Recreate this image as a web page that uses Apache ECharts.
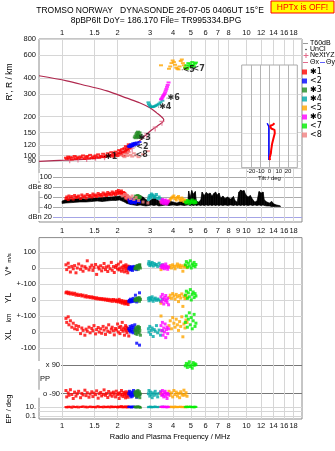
<!DOCTYPE html>
<html>
<head>
<meta charset="utf-8">
<script src="https://cdn.jsdelivr.net/npm/echarts@6/dist/echarts.min.js"></script>
<style>
html, body { margin: 0; padding: 0; background: #fff; }
#chart { width: 335px; height: 451px; }
</style>
</head>
<body>
<div id="chart"></div>
<script>
// frequency ticks (MHz) and height ticks (km)
const fTicks = [1, 1.5, 2, 3, 4, 5, 6, 7, 8, 10, 12, 14, 16, 18];
const fTicksMid = [1, 1.5, 2, 3, 4, 5, 6, 7, 8, 9, 10, 12, 14, 16, 18];
const rTicks = [80, 90, 100, 120, 150, 200, 300, 400, 600, 800];
const dbTicks = [20, 40, 60, 80, 100];
const midTicks = [-100, 0, 100, 200, 300, 400, 500];
const midTickText = ['-100', '0', '+-100', '0', '+-100', '0', '100'];
const ppTicks = [-90, 0, 90];
const ppTickText = ['o -90', 'PP', 'x 90'];
const epTicks = [0.1, 1, 10];
const epLabelTicks = [0.1, 10];
const tiltTicks = [-20, -10, 0, 10, 20];

const modeNames = ['✱1', '<2', '✱3', '✱4', '<5', '✱6', '<7', '<8'];
const modeColors = ['#ff0000', '#0000ff', '#228b22', '#00a8a8', '#ffa500', '#ff00ff', '#00ee00', '#f08080'];

// mode 1 (red)
const redF = [1.05,1.06,1.08,1.09,1.11,1.13,1.15,1.17,1.19,1.21,1.23,1.26,1.28,1.30,1.33,1.35,1.37,1.40,1.42,1.45,
  1.47,1.49,1.52,1.54,1.57,1.59,1.62,1.64,1.67,1.69,1.72,1.74,1.77,1.79,1.82,1.85,1.87,1.90,1.92,1.95,
  1.97,2.00,2.02,2.04,2.06,2.08,2.10,2.12,2.14,2.16,2.18,2.19,2.21,2.22,2.24,2.25,2.27,2.28,2.30,2.32];
const redRp = [96,94,98,95,97,93,96,99,94,97,95,98,96,100,94,97,99,95,101,96,
  98,95,100,97,102,96,99,98,103,97,100,98,104,99,101,106,98,103,100,107,
  102,99,105,110,103,108,101,112,105,99,114,107,110,118,104,112,116,108,122,113];
const redAmp = [57,60,55,62,58,61,56,63,59,60,62,57,64,60,62,58,65,61,63,60,
  66,62,64,61,67,63,65,62,68,64,66,63,69,65,67,64,70,66,68,65,
  71,67,73,69,70,66,72,68,65,69,63,67,60,64,58,62,56,60,55,58];
const redVs = [20,-10,30,5,-25,10,-5,15,-30,0,25,-8,12,-20,8,-2,45,-12,5,18,
  -15,3,22,-40,6,-6,14,-18,2,28,-10,7,-22,12,-4,35,-14,9,-28,4,
  16,-6,24,-12,0,38,-20,6,-8,14,-24,10,-2,20,-16,4,-30,12,-6,8];
const redYl = [45,50,40,48,38,44,35,42,30,36,28,33,25,30,20,27,18,22,15,20,
  12,16,8,14,6,10,4,9,2,7,0,5,-3,4,-5,2,-8,3,-6,0,
  -10,-2,-12,4,-8,-15,-4,-20,-6,-12,-18,-25,-8,-14,-22,-10,-16,-28,-12,-5];
const redXl = [85,60,95,45,70,30,55,20,40,15,35,-10,25,10,-20,18,5,30,-5,22,
  8,40,-12,15,28,0,20,-8,35,12,-15,25,5,45,-2,18,30,8,-18,22,
  12,50,0,28,-10,35,15,60,5,25,-20,18,40,8,30,-5,22,12,-25,10];
const redPp = [-70,-110,-85,-100,-65,-95,-120,-80,-105,-90,-75,-115,-88,-98,-68,-102,-84,-112,-92,-78,
  -108,-86,-96,-72,-118,-90,-82,-104,-94,-66,-100,-88,-114,-76,-98,-86,-106,-80,-92,-110,
  -74,-96,-88,-120,-84,-100,-70,-94,-108,-82,-98,-90,-116,-78,-104,-86,-92,-112,-80,-96];
const redEp = [10,8,12,9,11,7,13,10,9,12,8,11,10,14,9,12,8,10,13,9,
  11,10,8,12,15,9,10,11,8,13,10,9,12,11,8,14,10,9,12,10,
  11,8,13,10,9,12,16,10,8,11,10,13,9,12,10,8,11,14,9,10];

// mode 2 (blue)
const blueF = [2.30,2.32,2.34,2.35,2.37,2.38,2.40,2.41,2.43,2.44,2.46,2.48,2.50,2.54,2.58,2.63];
const blueRp = [118,116,120,117,122,119,121,118,124,120,123,125,121,126,122,127];
const blueAmp = [54,50,56,52,48,55,51,53,49,54,50,52,48,51,55,50];
const blueVs = [-5,5,-12,0,8,-8,3,-15,6,-3,10,-6,2,-10,12,15];
const blueYl = [-8,-2,-12,5,-5,-10,0,-6,10,-3,-8,2,30,-12,5,45];
const blueXl = [20,10,35,0,25,15,40,5,-5,30,18,45,10,-70,25,-82];
const bluePp = [-90,-75,-100,-85,-110,-95,-80,-105,-88,-70,-98,-92,-84,-112,-78,-95];
const blueEp = [10,12,9,11,10,8,13,10,9,11,12,10,9,10,11,10];

// mode 3 (green)
const greenF = [2.48,2.50,2.51,2.53,2.54,2.55,2.57,2.58,2.59,2.60,2.62,2.63,2.64,2.66];
const greenRp = [138,142,136,146,140,150,144,153,139,148,143,151,137,145];
const greenAmp = [58,60,62,57,61,59,63,58,60,62,57,61,59,60];
const greenVs = [-5,0,8,-3,12,5,15,2,-8,10,18,6,20,0];
const greenYl = [0,5,-5,8,2,10,-2,12,6,4,15,-8,8,3];
const greenXl = [10,-10,25,5,30,-15,15,0,35,20,-5,28,10,-20];
const greenPp = [-85,-100,-75,-95,-110,-80,-90,-70,-105,-88,-98,-78,-115,-92];
const greenEp = [10,12,9,8,11,10,13,9,10,12,8,11,10,7];

// mode 4 (teal)
const tealF = [2.94,2.96,2.99,3.02,3.05,3.08,3.12,3.16,3.20,3.25,3.30,3.36,3.42,3.50];
const tealRp = [258,250,244,240,238,237,238,240,242,245,248,252,258,266];
const tealAmp = [55,60,63,58,66,62,64,59,61,65,57,60,56,54];
const tealVs = [25,40,15,30,20,35,12,28,18,22,10,30,15,20];
const tealYl = [10,-5,15,0,8,20,-8,5,12,-2,6,0,-10,4];
const tealXl = [20,0,35,-15,10,25,-28,15,5,40,-5,12,-20,8];
const tealPp = [-90,-70,-105,-80,-95,-115,-85,-100,-75,-92,-110,-88,-78,-96];
const tealEp = [9,11,10,12,8,10,11,9,13,10,9,11,10,12];

// mode 5 (orange)
const orangeF = [3.44,3.80,3.86,3.92,3.98,4.04,4.10,4.16,4.22,4.28,4.34,4.40,4.46,4.52,4.58,4.64,4.70,4.76];
const orangeRp = [500,470,490,520,545,530,505,480,470,465,490,540,555,520,500,480,470,475];
const orangeAmp = [50,52,55,58,60,62,57,54,59,61,56,53,58,55,51,54,52,50];
const orangeVs = [-10,5,15,0,20,10,-5,12,25,8,18,3,14,-20,6,16,10,2];
const orangeYl = [-20,15,30,10,40,25,5,35,20,-10,28,12,38,-40,22,8,30,15];
const orangeXl = [100,40,70,20,90,55,30,80,45,10,65,35,95,-30,50,25,75,60];
const orangePp = [-90,-75,-100,-85,-110,-70,-95,-80,-105,-88,-115,-78,-92,-100,-68,-98,-84,-106];
const orangeEp = [10,11,9,12,10,8,13,10,9,11,10,12,9,10,11,8,10,12];

// mode 6 (magenta)
const magF = [3.44,3.47,3.50,3.53,3.56,3.59,3.62,3.65,3.68,3.71,3.74,3.78];
const magRp = [272,276,282,288,294,300,308,318,328,340,352,368];
const magAmp = [52,48,55,50,47,53,49,54,46,51,48,52];
const magVs = [5,15,0,20,8,-5,12,25,2,10,-8,6];
const magYl = [20,-10,35,5,-25,15,-5,28,0,-15,10,-30];
const magXl = [40,10,60,-20,25,0,50,-35,15,30,-10,20];
const magPp = [-80,-100,-70,-95,-110,-85,-75,-105,-90,-120,-88,-98];
const magEp = [10,12,9,11,10,13,9,10,11,8,12,10];

// mode 7 (lime)
const limeF = [4.66,4.72,4.78,4.84,4.90,4.96,5.02,5.08,5.14,5.20,5.26,5.32];
const limeRp = [480,500,470,520,495,510,485,530,505,490,515,525];
const limeAmp = [50,48,53,51,47,52,49,54,50,48,52,49];
const limeVs = [20,40,5,30,12,45,0,25,15,35,8,22];
const limeYl = [30,55,10,45,20,65,0,35,50,15,40,25];
const limeXl = [60,100,30,80,120,45,90,20,70,110,35,55];
const limePp = [85,100,75,95,110,80,90,70,105,88,98,92];
const limeEp = [10,12,9,11,10,13,9,10,11,8,12,10];

// mode 8 (salmon)
const salF = [2.12,2.18,2.22,2.26,2.30,2.35,2.40,2.45,2.52,2.60,2.75,2.92];
const salRp = [100,97,103,99,106,101,98,104,100,97,102,108];
const salAmp = [62,65,58,63,60,57,62,55,59,53,50,48];

// mode markers
const markF = [1.70, 2.51, 2.58, 3.34, 4.48, 3.71, 5.07, 2.49];
const markKm = [98, 117, 136, 237, 462, 279, 468, 101];

// real height profile
const profF = [0.75,1.04,1.42,1.82,2.20,2.49,2.77,3.07,3.34,3.51,3.56,3.48,3.27,3.01,2.65,2.25,1.75,1.36,1.06,0.75];
const profKm = [90,92,94,99,108,121,139,158,172,181,190,198,213,233,255,278,317,347,379,415];
const nextF = [1.10,1.22,1.36,1.52,1.70,1.90,2.12,2.40,2.88,3.20,3.48];
const nextKm = [91,92,93,95,96,99,104,110,142,160,178];

// noise / amplitude band
const ampF = [1.00,1.05,1.15,1.25,1.35,1.45,1.55,1.65,1.75,1.85,1.95,2.05,2.15,2.25,2.35,2.45,2.55,2.65,2.75,2.85,
  2.95,3.05,3.15,3.25,3.35,3.50,3.65,3.80,4.00,4.20,4.40,4.60,4.80,4.86,4.95,5.05,5.15,5.28,5.35,5.50,
  5.65,5.75,5.90,6.05,6.20,6.35,6.50,6.65,6.80,6.95,7.10,7.25,7.45,7.65,7.90,8.20,8.50,8.70,8.90,9.10,
  9.30,9.50,9.70,9.90,10.2,10.5,10.8,11.1,11.4,11.7,12.0,12.3,12.5,12.9,13.3,13.7,14.1,14.6,15.0,15.3];
const ampLo = [47,48,49,50,50,51,52,51,52,53,53,54,51,47,45,44,43,44,43,42,
  43,44,43,44,42,43,44,43,44,43,44,43,44,44,43,44,43,44,43,44,
  43,44,43,44,43,44,43,44,43,44,43,44,43,44,43,44,43,44,43,44,
  43,44,43,44,43,44,43,44,43,44,43,44,43,42,42,41,41,41,41,41];
const ampHi = [52,55,56,57,56,58,58,59,60,60,61,62,60,58,56,58,57,62,60,55,
  50,55,58,56,52,50,48,52,50,48,52,49,50,72,60,73,66,71,52,50,
  54,70,63,69,66,68,62,67,70,64,68,58,62,57,60,56,61,52,50,70,
  74,72,73,65,60,63,55,50,52,71,68,70,54,50,48,51,46,44,43,42];

// tilt inset
const tiltRedDeg = [0.5,0.2,1.8,1.5,1.8,2.9,4.3,5.7,5.4,1.8,3.0,0.7,3.6,5.4];
const tiltRedKm = [92,96,98,104,110,124,136,149,158,162,167,170,173,178];
const tiltBlueDeg = [-0.7,-0.7,-0.7,-0.7,-2.5];
const tiltBlueKm = [92,120,150,168,178];

const vsBase = 400, ylBase = 200, xlBase = 0;

const lg = v => Math.log10(v);
const fmtF = v => String(Math.round(Math.pow(10, v) * 10) / 10);
const FONT = 'Liberation Sans';
const gridLine = '#d6d6d6';

const modes = [
  { f: redF, rp: redRp, amp: redAmp, vs: redVs, yl: redYl, xl: redXl, pp: redPp, ep: redEp },
  { f: blueF, rp: blueRp, amp: blueAmp, vs: blueVs, yl: blueYl, xl: blueXl, pp: bluePp, ep: blueEp },
  { f: greenF, rp: greenRp, amp: greenAmp, vs: greenVs, yl: greenYl, xl: greenXl, pp: greenPp, ep: greenEp },
  { f: tealF, rp: tealRp, amp: tealAmp, vs: tealVs, yl: tealYl, xl: tealXl, pp: tealPp, ep: tealEp },
  { f: orangeF, rp: orangeRp, amp: orangeAmp, vs: orangeVs, yl: orangeYl, xl: orangeXl, pp: orangePp, ep: orangeEp },
  { f: magF, rp: magRp, amp: magAmp, vs: magVs, yl: magYl, xl: magXl, pp: magPp, ep: magEp },
  { f: limeF, rp: limeRp, amp: limeAmp, vs: limeVs, yl: limeYl, xl: limeXl, pp: limePp, ep: limeEp },
  { f: salF, rp: salRp, amp: salAmp }
];

const fMin = lg(0.75), fMax = lg(20);
const L = 39, W = 263;
const grids = [
  { left: L, width: W, top: 39, height: 133 },           // R'
  { left: L, width: W, top: 172, height: 50 },           // dBe
  { left: L, width: W, top: 237.6, height: 118.4 },      // V*, YL, XL
  { left: L, width: W, top: 356, height: 44 },           // PP
  { left: L, width: W, top: 400, height: 19 },           // EP
  { left: 241.7, top: 65, width: 55.6, height: 102.7, show: true, borderColor: '#aaa', backgroundColor: '#fff', z: 4 },
  { left: L, width: W, top: 39, height: 183, show: true, borderColor: '#8c8c8c', borderWidth: 1 },
  { left: L, width: W, top: 237.6, height: 181.4, show: true, borderColor: '#8c8c8c', borderWidth: 1 }
];

const tickFont = { fontSize: 7.5, color: '#111', fontFamily: FONT };

function fAxis(i, labels, pos, margin) {
  return {
    type: 'value', gridIndex: i, min: fMin, max: fMax, position: pos || 'bottom',
    axisLine: { show: false },
    axisTick: { show: false, customValues: fTicks.map(lg) },
    axisLabel: labels
      ? Object.assign({ show: true, customValues: labels.map(lg), formatter: fmtF, margin: margin }, tickFont)
      : { show: false },
    splitLine: { show: true, lineStyle: { color: gridLine, width: 1 } }
  };
}

const xAxis = [
  fAxis(0, fTicks, 'top', 2),
  fAxis(1, fTicksMid, 'bottom', 5),
  fAxis(2, null),
  fAxis(3, null),
  fAxis(4, fTicks, 'bottom', 3),
  {
    type: 'value', gridIndex: 5, min: -30, max: 30, z: 5,
    axisLine: { show: false }, axisTick: { show: false, customValues: tiltTicks },
    axisLabel: { customValues: tiltTicks, fontSize: 6, color: '#111', margin: 1, fontFamily: FONT },
    splitLine: { show: true, lineStyle: { color: '#b4b4b4' } },
    name: 'Tilt / deg', nameLocation: 'middle', nameGap: 8,
    nameTextStyle: { fontSize: 6, color: '#111', fontFamily: FONT }
  },
  { gridIndex: 6, show: false, type: 'value' },
  { gridIndex: 7, show: false, type: 'value' }
];

const yAxis = [
  {
    type: 'value', gridIndex: 0, min: lg(74.4), max: lg(800),
    axisLine: { show: false },
    axisTick: { show: false, customValues: rTicks.map(lg) },
    axisLabel: Object.assign({ customValues: rTicks.map(lg), formatter: v => String(Math.round(Math.pow(10, v))), margin: 3 }, tickFont),
    splitLine: { lineStyle: { color: gridLine } }
  },
  {
    type: 'value', gridIndex: 1, min: 10, max: 110,
    axisLine: { show: false },
    axisTick: { show: false, customValues: dbTicks },
    axisLabel: Object.assign({
      customValues: dbTicks, inside: true, align: 'right', margin: 14,
      backgroundColor: '#fff', padding: [0, 1, 0, 1],
      formatter: v => v === 80 ? 'dBe 80' : (v === 20 ? 'dBn 20' : String(v))
    }, tickFont),
    splitLine: { lineStyle: { color: ['#a4a4e6', '#aaa', '#aaa', '#aaa', '#aaa'] } }
  },
  {
    type: 'value', gridIndex: 2, min: -150, max: 590,
    axisLine: { show: false },
    axisTick: { show: false, customValues: midTicks },
    axisLabel: Object.assign({ customValues: midTicks, margin: 3, formatter: v => midTickText[midTicks.indexOf(v)] }, tickFont),
    splitLine: { lineStyle: { color: gridLine } }
  },
  {
    type: 'value', gridIndex: 3, min: -129.5, max: 146.5,
    axisLine: { show: false },
    axisTick: { show: false, customValues: ppTicks },
    axisLabel: Object.assign({
      customValues: ppTicks, inside: true, align: 'right', margin: 22,
      formatter: v => v === 0 ? '{p|PP}' : '{b|' + ppTickText[ppTicks.indexOf(v)] + '}',
      rich: {
        p: { padding: [0, 11, 0, 0], fontSize: 7.5, fontFamily: FONT, color: '#111' },
        b: { backgroundColor: '#fff', padding: [0, 1, 0, 9], fontSize: 7.5, fontFamily: FONT, color: '#111' }
      }
    }, tickFont),
    splitLine: { lineStyle: { color: ['#777', 'rgba(0,0,0,0)', '#777'] } }
  },
  {
    type: 'value', gridIndex: 4, min: 1 - 12 / 4.5, max: 1 + 7 / 4.5,
    axisLine: { show: false },
    axisTick: { show: false, customValues: epTicks.map(lg) },
    axisLabel: Object.assign({ customValues: epLabelTicks.map(lg), margin: 3, formatter: v => (v > 0 ? '10.' : '0.1') }, tickFont),
    splitLine: { lineStyle: { color: gridLine } }
  },
  {
    type: 'value', gridIndex: 5, min: lg(80.3), max: lg(505), z: 5,
    axisLine: { show: false },
    axisTick: { show: false, customValues: rTicks.map(lg) },
    axisLabel: { show: false },
    splitLine: { lineStyle: { color: '#e2e2e2' } }
  },
  { gridIndex: 6, show: false, type: 'value' },
  { gridIndex: 7, show: false, type: 'value' }
];

function scatter(name, color, i, data, size) {
  return {
    type: 'scatter', name: name, xAxisIndex: i, yAxisIndex: i, data: data,
    symbol: 'rect', symbolSize: size, itemStyle: { color: color }, z: 3, silent: true
  };
}

const series = [];

// amplitude band: each sample joined to the next as a filled slab between low and high edge
series.push({
  type: 'custom', xAxisIndex: 1, yAxisIndex: 1, silent: true, z: 2, clip: true,
  data: ampF.map((f, i) => [lg(f), ampLo[i], ampHi[i]]),
  encode: { x: 0, y: [1, 2] },
  renderItem: (params, api) => {
    const i = params.dataIndex;
    if (i >= ampF.length - 1) return null;
    const a = lg(ampF[i]), b = lg(ampF[i + 1]);
    const pts = [
      api.coord([a, ampHi[i]]), api.coord([b, ampHi[i + 1]]),
      api.coord([b, ampLo[i + 1]]), api.coord([a, ampLo[i]])
    ];
    return { type: 'polygon', shape: { points: pts }, style: { fill: '#000', stroke: '#000', lineWidth: 0.6 } };
  }
});

// profile curve and NeXtYZ marks
series.push({
  type: 'line', xAxisIndex: 0, yAxisIndex: 0, symbol: 'none', silent: true, smooth: 0.3,
  data: profF.map((f, i) => [lg(f), lg(profKm[i])]),
  lineStyle: { color: '#b0284e', width: 1.2 }, z: 2
});
series.push({
  type: 'scatter', xAxisIndex: 0, yAxisIndex: 0, silent: true,
  symbol: 'path://M0,0H8V2H5V8H3V2H0Z', symbolSize: [5, 5],
  data: nextF.map((f, i) => [lg(f), lg(nextKm[i])]),
  itemStyle: { color: '#e26a8a' }, z: 3
});

modes.forEach((m, k) => {
  const name = modeNames[k], color = modeColors[k];
  series.push(scatter(name, color, 0, m.f.map((f, i) => [lg(f), lg(m.rp[i])]), [4, 2]));
  series.push(scatter(name, color, 1, m.f.map((f, i) => [lg(f), m.amp[i]]), [3, 3]));
  if (m.vs) {
    const mid = [];
    m.f.forEach((f, i) => {
      mid.push([lg(f), m.vs[i] + vsBase], [lg(f), m.yl[i] + ylBase], [lg(f), m.xl[i] + xlBase]);
    });
    series.push(scatter(name, color, 2, mid, [3, 3]));
    series.push(scatter(name, color, 3, m.f.map((f, i) => [lg(f), m.pp[i]]), [3, 3]));
    series.push(scatter(name, color, 4, m.f.map((f, i) => [lg(f), lg(m.ep[i])]), [3, 2]));
  }
});

// mode labels on the R' panel
series.push({
  type: 'scatter', xAxisIndex: 0, yAxisIndex: 0, silent: true, symbol: 'circle', symbolSize: 1,
  data: markF.map((f, i) => [lg(f), lg(markKm[i]), modeNames[i]]),
  itemStyle: { color: '#000' },
  label: {
    show: true, position: 'right', distance: 0, formatter: p => p.value[2],
    color: '#000', fontSize: 8, fontWeight: 'bold', fontFamily: 'DejaVu Sans'
  },
  z: 4
});

// tilt inset
series.push({
  type: 'line', xAxisIndex: 5, yAxisIndex: 5, symbol: 'none', silent: true, z: 6,
  data: tiltBlueDeg.map((d, i) => [d, lg(tiltBlueKm[i])]),
  lineStyle: { color: '#0000ff', width: 1.5 }
});
series.push({
  type: 'line', xAxisIndex: 5, yAxisIndex: 5, symbol: 'none', silent: true, z: 6,
  data: tiltRedDeg.map((d, i) => [d, lg(tiltRedKm[i])]),
  lineStyle: { color: '#ff0000', width: 2 }
});

function txt(text, x, y, size, extra) {
  return Object.assign({
    type: 'text', x: x, y: y, silent: true,
    style: Object.assign({
      text: text, fontSize: size, fontFamily: FONT, fill: '#000',
      textAlign: 'center', textVerticalAlign: 'middle'
    }, (extra && extra.style) || {})
  }, extra && extra.rotation ? { rotation: extra.rotation } : {});
}
const up = { rotation: Math.PI / 2 };
const leftText = { style: { textAlign: 'left' } };

const graphic = [
  txt('TROMSO NORWAY   DYNASONDE 26-07-05 0406UT 15°E', 150, 11, 8.5),
  txt('8pBP6It DoY= 186.170 File= TR995334.BPG', 156, 21, 8.5),
  { type: 'rect', silent: true, shape: { x: 271, y: 1, width: 63, height: 12 }, style: { fill: '#ffff00', stroke: '#ff0000', lineWidth: 1 } },
  txt('HPTx is OFF!', 302.5, 7.5, 8.5, { style: { fill: '#ff0000' } }),
  txt("R', R / km", 10, 82, 8.5, up),
  txt('V*', 9, 271, 8.5, up),
  txt('m/s', 9, 258, 6, up),
  txt('YL', 9, 298, 8.5, up),
  txt('km', 9, 318, 6.5, up),
  txt('XL', 9, 335, 8.5, up),
  txt('EP / deg', 9, 409, 7.5, up),
  txt('Radio and Plasma Frequency / MHz', 170, 437, 7.5),
  // right-hand key
  { type: 'line', silent: true, shape: { x1: 303, y1: 43.5, x2: 308, y2: 43.5 }, style: { stroke: '#999', lineWidth: 1 } },
  txt('T60dB', 310, 43.5, 7, leftText),
  { type: 'circle', silent: true, shape: { cx: 306, cy: 49.5, r: 0.7 }, style: { fill: '#000' } },
  txt('UnCl', 310, 49.5, 7, leftText),
  { type: 'line', silent: true, shape: { x1: 303.5, y1: 55.5, x2: 308.5, y2: 55.5 }, style: { stroke: '#e26a8a', lineWidth: 1 } },
  { type: 'line', silent: true, shape: { x1: 306, y1: 53, x2: 306, y2: 58 }, style: { stroke: '#e26a8a', lineWidth: 1 } },
  txt('NeXtYZ', 310, 55.5, 7, leftText),
  { type: 'line', silent: true, shape: { x1: 303, y1: 62.5, x2: 308, y2: 62.5 }, style: { stroke: '#e26a8a', lineWidth: 1 } },
  txt('Θx', 310, 62.5, 7, leftText),
  { type: 'line', silent: true, shape: { x1: 320, y1: 62.5, x2: 325, y2: 62.5 }, style: { stroke: '#6060ff', lineWidth: 1 } },
  txt('Θy', 326, 62.5, 7, leftText)
];

const chart = echarts.init(document.getElementById('chart'));
chart.setOption({
  animation: false,
  backgroundColor: '#fff',
  textStyle: { fontFamily: FONT },
  grid: grids,
  xAxis: xAxis,
  yAxis: yAxis,
  legend: {
    data: modeNames, orient: 'vertical', left: 302, top: 67.5, padding: 0,
    itemWidth: 5, itemHeight: 5, itemGap: 0, icon: 'rect', selectedMode: false,
    textStyle: { fontSize: 8, lineHeight: 9, color: '#000', fontFamily: 'DejaVu Sans', padding: [0, 0, 0, -2] }
  },
  graphic: graphic,
  series: series
});
</script>
</body>
</html>
